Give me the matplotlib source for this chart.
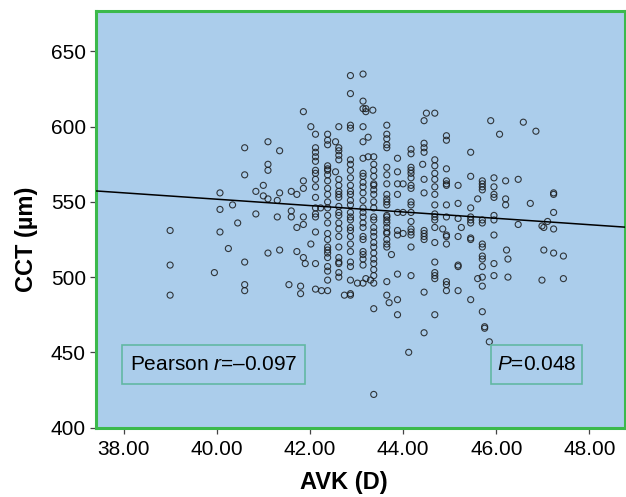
import numpy as np
import matplotlib
matplotlib.use("Agg")
import matplotlib.pyplot as plt
from matplotlib.patches import Rectangle

plt.rcParams['font.family'] = ['Liberation Sans', 'DejaVu Sans']
plt.rcParams['mathtext.fontset'] = 'custom'
plt.rcParams['mathtext.rm'] = 'Liberation Sans'
plt.rcParams['mathtext.it'] = 'Liberation Sans:italic'

# AVK (D) and CCT (um)
avk = [39.0, 39.0, 39.0,
       39.95, 40.07, 40.07, 40.07, 40.34, 40.45, 40.25,
       40.6, 40.6, 40.6, 40.6, 40.6, 40.84, 40.84, 41.0, 41.0,
       41.1, 41.1, 41.1, 41.1, 41.1, 41.35, 41.35, 41.3, 41.3, 41.35, 41.55,
       41.6, 41.6, 41.6, 41.72, 41.72, 41.72, 41.8, 41.8,
       41.86, 41.86, 41.86, 41.86, 41.86, 41.9, 41.86, 42.02, 42.02,
       42.12, 42.12, 42.12, 42.12, 42.12, 42.12, 42.12, 42.12, 42.12, 42.12,
       42.12, 42.12, 42.12, 42.12, 42.12, 42.12, 42.23, 42.25,
       42.38, 42.38, 42.38, 42.38, 42.38, 42.38, 42.38, 42.38, 42.38, 42.38,
       42.38, 42.38, 42.38, 42.38, 42.38, 42.38, 42.38, 42.38, 42.38, 42.38,
       42.38, 42.38, 42.38, 42.38,
       42.62, 42.62, 42.62, 42.62, 42.62, 42.62, 42.62, 42.62, 42.62, 42.62,
       42.62, 42.62, 42.62, 42.62, 42.62, 42.62, 42.62, 42.62, 42.62, 42.62,
       42.62, 42.62, 42.55, 42.55, 42.74,
       42.87, 42.87, 42.87, 42.87, 42.87, 42.87, 42.87, 42.87, 42.87, 42.87,
       42.87, 42.87, 42.87, 42.87, 42.87, 42.87, 42.87, 42.87, 42.87, 42.87,
       42.87, 42.87, 42.87, 42.87, 42.87, 42.87,
       43.14, 43.14, 43.14, 43.14, 43.14, 43.14, 43.14, 43.14, 43.14, 43.14,
       43.14, 43.14, 43.14, 43.14, 43.14, 43.14, 43.14, 43.14, 43.14, 43.14,
       43.14, 43.14, 43.14, 43.14,
       43.2, 43.2, 43.35, 43.25, 43.02, 43.2, 43.3, 43.25,
       43.37, 43.37, 43.37, 43.37, 43.37, 43.37, 43.37, 43.37, 43.37, 43.37,
       43.37, 43.37, 43.37, 43.37, 43.37, 43.37, 43.37, 43.37, 43.37, 43.37,
       43.37, 43.37, 43.37, 43.37, 43.37,
       43.65, 43.65, 43.65, 43.65, 43.65, 43.65, 43.65, 43.65, 43.65, 43.65,
       43.65, 43.65, 43.65, 43.65, 43.65, 43.65, 43.65, 43.65, 43.65, 43.65,
       43.65, 43.65, 43.65, 43.65, 43.7, 43.75,
       43.88, 43.88, 43.88, 43.88, 43.88, 43.88, 43.88, 43.88, 43.88, 43.88,
       44.0, 44.0, 44.0,
       44.17, 44.17, 44.17, 44.17, 44.17, 44.17, 44.17, 44.17, 44.17, 44.17,
       44.17, 44.17, 44.17, 44.17, 44.17, 44.17, 44.17, 44.12,
       44.45, 44.45, 44.45, 44.45, 44.45, 44.45, 44.45, 44.45, 44.45, 44.45,
       44.45, 44.45, 44.5, 44.42,
       44.68, 44.68, 44.68, 44.68, 44.68, 44.68, 44.68, 44.68, 44.68, 44.68,
       44.68, 44.68, 44.68, 44.68, 44.68, 44.68, 44.68, 44.68,
       44.93, 44.93, 44.93, 44.93, 44.93, 44.93, 44.93, 44.93, 44.93, 44.93,
       44.93, 44.93, 44.93, 44.93, 44.85,
       45.18, 45.18, 45.18, 45.18, 45.18, 45.18, 45.18, 45.25,
       45.45, 45.45, 45.45, 45.45, 45.45, 45.45, 45.45, 45.45, 45.45,
       45.7, 45.7, 45.7, 45.7, 45.6, 45.7, 45.7, 45.7, 45.7, 45.7,
       45.7, 45.7, 45.7, 45.7, 45.7, 45.6, 45.75, 45.75,
       45.95, 45.95, 45.95, 45.95, 45.95, 45.95, 45.95, 45.95, 45.95, 45.88,
       45.85, 46.07,
       46.2, 46.2, 46.2, 46.22, 46.25, 46.25,
       46.47, 46.47, 46.58, 46.85, 46.73,
       46.98, 47.02, 47.1, 47.02, 46.98,
       47.23, 47.23, 47.23, 47.23, 47.23, 47.44, 47.44]

cct = [531, 508, 488,
       503, 556, 545, 530, 548, 536, 519,
       586, 568, 510, 495, 491, 557, 542, 561, 554,
       590, 575, 571, 552, 516, 584, 556, 540, 551, 518, 495,
       557, 544, 540, 555, 533, 517, 494, 489,
       610, 564, 559, 540, 535, 509, 513, 600, 522,
       595, 586, 583, 580, 577, 571, 569, 565, 560, 553,
       546, 542, 540, 530, 509, 492, 546, 491,
       595, 591, 588, 574, 572, 571, 568, 564, 559, 555,
       550, 546, 541, 536, 529, 525, 520, 518, 516, 513,
       507, 504, 498, 491,
       600, 586, 584, 581, 578, 565, 561, 557, 555, 553,
       547, 543, 541, 536, 532, 527, 520, 513, 510, 509,
       503, 500, 570, 590, 488,
       634, 622, 601, 599, 578, 575, 571, 566, 561, 557,
       555, 551, 548, 543, 540, 538, 533, 531, 527, 522,
       517, 510, 507, 498, 489, 488,
       635, 617, 612, 600, 579, 569, 567, 563, 560, 556,
       551, 546, 543, 540, 536, 533, 527, 525, 517, 515,
       512, 508, 496, 590,
       612, 610, 611, 593, 496, 499, 498, 580,
       580, 575, 571, 567, 562, 561, 558, 555, 550, 546,
       540, 538, 533, 530, 527, 523, 520, 516, 512, 509,
       505, 501, 496, 479, 422,
       601, 595, 592, 588, 586, 573, 568, 562, 555, 552,
       550, 548, 541, 540, 538, 536, 533, 530, 529, 525,
       522, 520, 497, 488, 483, 515,
       579, 570, 562, 555, 543, 531, 528, 502, 485, 475,
       562, 543, 529,
       585, 582, 573, 571, 569, 566, 561, 559, 550, 548,
       543, 537, 532, 530, 528, 520, 501, 450,
       604, 589, 586, 583, 565, 556, 531, 529, 527, 525,
       490, 463, 609, 575,
       609, 578, 574, 569, 565, 560, 555, 548, 542, 540,
       538, 533, 523, 510, 503, 501, 499, 475,
       594, 591, 572, 564, 562, 561, 548, 540, 528, 522,
       497, 495, 491, 527, 532,
       561, 549, 527, 508, 507, 491, 539, 533,
       583, 567, 540, 538, 536, 526, 525, 485, 546,
       564, 562, 560, 558, 552, 538, 536, 522, 520, 514,
       512, 507, 500, 494, 477, 499, 467, 466,
       566, 560, 555, 553, 541, 538, 528, 509, 501, 604,
       457, 595,
       564, 552, 548, 518, 512, 500,
       565, 535, 603, 597, 549,
       534, 533, 537, 518, 498,
       556, 555, 543, 532, 516, 514, 499]

# least-squares line as drawn in the figure
fit_slope = -2.12
fit_intercept = 636.6

fig = plt.figure(figsize=(6.26, 4.97), dpi=100)
ax = fig.add_axes([0.1534, 0.1398, 0.8456, 0.8383])
ax.set_facecolor('#abcdeb')

ax.scatter(avk, cct, s=19, facecolors='none', edgecolors='#1a1a1a',
           linewidths=0.8, alpha=0.85, zorder=3)

xs = np.array([37.41, 48.77])
ax.plot(xs, fit_intercept + fit_slope * xs, color='black', lw=1.1, zorder=4)

ax.set_xlim(37.41, 48.77)
ax.set_ylim(400, 677)
ax.set_xticks([38, 40, 42, 44, 46, 48])
ax.set_xticklabels(['38.00', '40.00', '42.00', '44.00', '46.00', '48.00'])
ax.set_yticks([400, 450, 500, 550, 600, 650])

for sp in ax.spines.values():
    sp.set_color('#3cb94b')
    sp.set_linewidth(2.2)

ax.tick_params(axis='both', direction='out', length=4.3, width=0.9,
               color='#444444', labelsize=15, pad=3)
ax.tick_params(axis='x', pad=5)

ax.set_xlabel('AVK (D)', fontsize=17, fontweight='bold')
ax.set_ylabel('CCT (µm)', fontsize=17, fontweight='bold')
ax.xaxis.set_label_coords(0.469, -0.104)
ax.yaxis.set_label_coords(-0.11, 0.4526)

# annotation boxes
box_color = '#62b8a3'
ax.add_patch(Rectangle((0.0486, 0.1044), 0.3464, 0.0936, transform=ax.transAxes,
                       fill=False, edgecolor=box_color, lw=1.2, zorder=5))
ax.text(0.222, 0.151, 'Pearson $r$=–0.097', transform=ax.transAxes,
        ha='center', va='center', fontsize=15, zorder=6)
ax.add_patch(Rectangle((0.7467, 0.1044), 0.1723, 0.0936, transform=ax.transAxes,
                       fill=False, edgecolor=box_color, lw=1.2, zorder=5))
ax.text(0.833, 0.151, '$P$=0.048', transform=ax.transAxes,
        ha='center', va='center', fontsize=15, zorder=6)

fig.savefig('out.png', dpi=100)
